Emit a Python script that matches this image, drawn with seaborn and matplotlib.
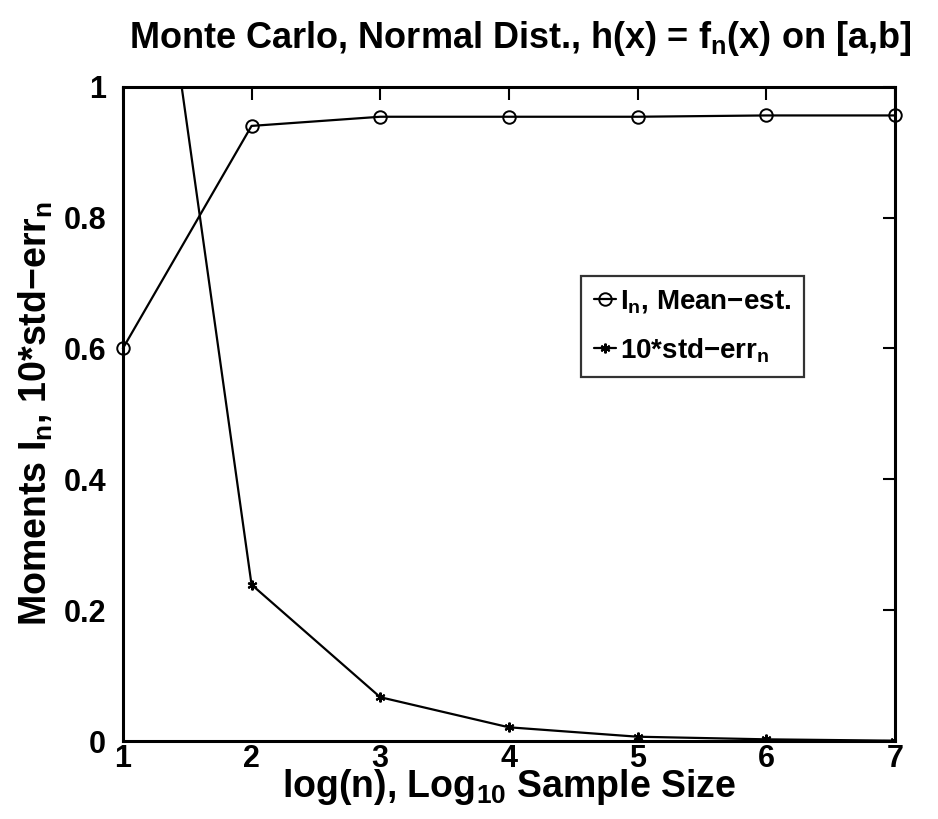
import matplotlib
matplotlib.use("Agg")
import matplotlib.pyplot as plt
import seaborn as sns
import pandas as pd

log_n = [1, 2, 3, 4, 5, 6, 7]
mean_est = [0.600, 0.940, 0.954, 0.954, 0.954, 0.956, 0.956]
std_err10 = [1.64, 0.239, 0.067, 0.021, 0.0066, 0.0026, 0.0005]
x_ticks = [1, 2, 3, 4, 5, 6, 7]
y_ticks = [0, 0.2, 0.4, 0.6, 0.8, 1.0]
y_tick_labels = ["0", "0.2", "0.4", "0.6", "0.8", "1"]

sns.set_theme(style="white")
plt.rcParams['font.family'] = ['Liberation Sans', 'DejaVu Sans']
plt.rcParams['font.weight'] = 'bold'
plt.rcParams['text.color'] = 'black'
plt.rcParams['axes.labelcolor'] = 'black'
plt.rcParams['xtick.color'] = 'black'
plt.rcParams['ytick.color'] = 'black'
plt.rcParams['mathtext.fontset'] = 'custom'
plt.rcParams['mathtext.rm'] = 'Liberation Sans:bold'
plt.rcParams['mathtext.bf'] = 'Liberation Sans:bold'
plt.rcParams['mathtext.it'] = 'Liberation Sans:bold'
plt.rcParams['mathtext.default'] = 'bf'

df = pd.DataFrame({"x": log_n, "mean": mean_est, "se": std_err10})

fig = plt.figure(figsize=(9.38, 8.19), dpi=100)
ax = fig.add_axes([0.131, 0.0952, 0.823, 0.799])

sns.lineplot(data=df, x="x", y="mean", ax=ax, color="black", linewidth=1.6,
             marker="o", markersize=9, markerfacecolor="none",
             markeredgecolor="black", markeredgewidth=1.4,
             label=r"I$_\mathbf{n}$, Mean$-$est.")
sns.lineplot(data=df, x="x", y="se", ax=ax, color="black", linewidth=1.6,
             marker=(6, 2, 0), markersize=7, markeredgewidth=1.5,
             markeredgecolor="black", markerfacecolor="black",
             label=r"10*std$-$err$_\mathbf{n}$")
ax.lines[0].set_clip_on(False)

ax.set_xlim(1, 7)
ax.set_ylim(0, 1)
ax.set_xticks(x_ticks)
ax.set_xticklabels([str(v) for v in x_ticks])
ax.set_yticks(y_ticks)
ax.set_yticklabels(y_tick_labels)
ax.tick_params(axis='both', direction='in', length=9, width=1.5,
               labelsize=22, top=True, right=True)
ax.tick_params(axis='y', pad=12)
ax.tick_params(axis='x', pad=2)
for lab in ax.get_xticklabels() + ax.get_yticklabels():
    lab.set_fontweight('bold')
for s in ax.spines.values():
    s.set_color('black')
    s.set_linewidth(2.2)

ax.set_xlabel(r"log(n), Log$_\mathbf{10}$ Sample Size", fontsize=27,
              fontweight='bold', labelpad=-5)
ax.set_ylabel(r"Moments I$_\mathbf{n}$, 10*std$-$err$_\mathbf{n}$", fontsize=27,
              fontweight='bold', labelpad=6)
ax.set_title(r"Monte Carlo, Normal Dist., h(x) = f$_\mathbf{n}$(x) on [a,b]",
             fontsize=26, fontweight='bold', pad=28, x=0.515)

leg = ax.legend(loc='upper left', bbox_to_anchor=(0.594, 0.711),
                borderaxespad=0, fancybox=False, frameon=True,
                handlelength=0.8, handletextpad=0.15, fontsize=20,
                borderpad=0.45, labelspacing=0.75)
leg.get_frame().set_edgecolor('black')
leg.get_frame().set_linewidth(1.6)
for t in leg.get_texts():
    t.set_fontweight('bold')

fig.savefig("out.png", dpi=100)
